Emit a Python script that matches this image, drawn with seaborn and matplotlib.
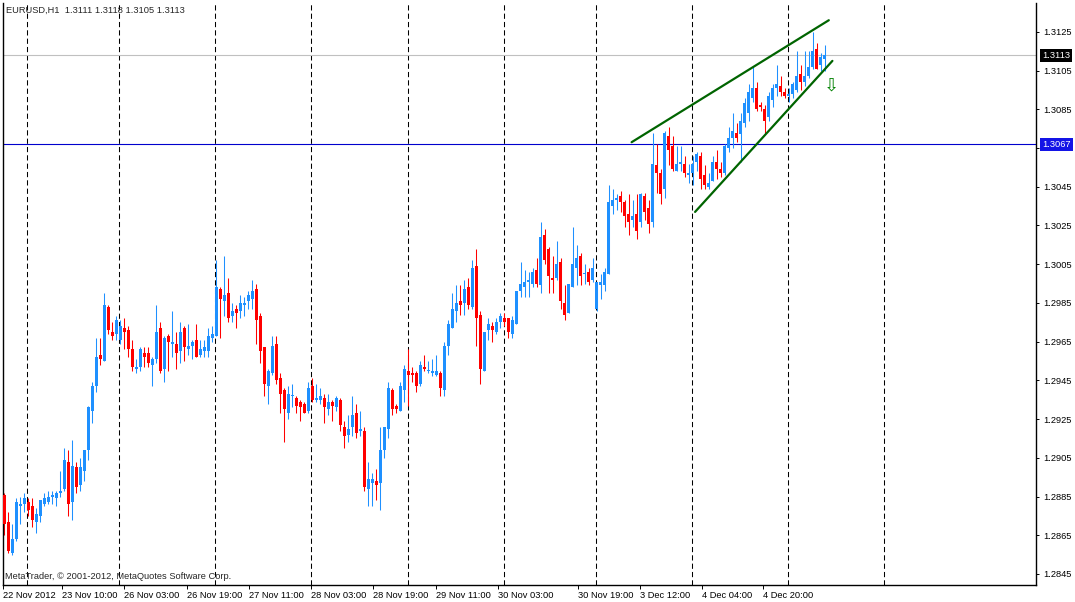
import matplotlib
matplotlib.use('Agg')
import matplotlib.pyplot as plt
import matplotlib.transforms as mtransforms
import pandas as pd
import seaborn as sns

# EURUSD H1 candles, 22 Nov 2012 18:00 -> 5 Dec 2012 09:00
opens = [
    1.2886, 1.2872, 1.2856, 1.2863, 1.2880, 1.2881, 1.2882, 1.2880, 1.2872, 1.2875,
    1.2881, 1.2882, 1.2885, 1.2884, 1.2887, 1.2889, 1.2903, 1.2882, 1.2900, 1.2891,
    1.2898, 1.2909, 1.2929, 1.2942, 1.2958, 1.2955, 1.2983, 1.2970, 1.2969, 1.2966,
    1.2972, 1.2971, 1.2961, 1.2951, 1.2952, 1.2959, 1.2959, 1.2953, 1.2956, 1.2972,
    1.2951, 1.2968, 1.2964, 1.2964, 1.2960, 1.2972, 1.2961, 1.2963, 1.2966, 1.2958,
    1.2960, 1.2960, 1.2967, 1.2968, 1.2992, 1.2986, 1.2990, 1.2978, 1.2982, 1.2981,
    1.2984, 1.2986, 1.2987, 1.2992, 1.2978, 1.2962, 1.2942, 1.2949, 1.2964, 1.2946,
    1.2940, 1.2928, 1.2937, 1.2936, 1.2934, 1.2933, 1.2929, 1.2942, 1.2935, 1.2935,
    1.2936, 1.2930, 1.2934, 1.2931, 1.2935, 1.2921, 1.2917, 1.2921, 1.2928, 1.2919,
    1.2919, 1.2889, 1.2892, 1.2893, 1.2892, 1.2909, 1.2920, 1.2940, 1.2932, 1.2929,
    1.2940, 1.2950, 1.2949, 1.2949, 1.2943, 1.2952, 1.2950, 1.2949, 1.2948, 1.2949,
    1.2940, 1.2963, 1.2972, 1.2981, 1.2986, 1.2985, 1.2993, 1.2983, 1.3004, 1.2979,
    1.2950, 1.2971, 1.2973, 1.2970, 1.2975, 1.2977, 1.2977, 1.2969, 1.2974, 1.2991,
    1.2993, 1.2996, 1.2995, 1.3002, 1.2994, 1.3020, 1.3013, 1.2998, 1.2998, 1.3006,
    1.2985, 1.2980, 1.2993, 1.3003, 1.3009, 1.3000, 1.3001, 1.2997, 1.2982, 1.2994,
    1.2994, 1.3000, 1.3035, 1.3038, 1.3040, 1.3037, 1.3031, 1.3028, 1.3031, 1.3027,
    1.3040, 1.3034, 1.3027, 1.3056, 1.3052, 1.3044, 1.3071, 1.3066, 1.3053, 1.3057,
    1.3057, 1.3051, 1.3052, 1.3058, 1.3061, 1.3051, 1.3045, 1.3048, 1.3058, 1.3054,
    1.3052, 1.3065, 1.3070, 1.3073, 1.3072, 1.3078, 1.3083, 1.3091, 1.3096, 1.3087,
    1.3085, 1.3081, 1.3090, 1.3096, 1.3097, 1.3094, 1.3092, 1.3093, 1.3095, 1.3103,
    1.3099, 1.3102, 1.3107, 1.3116, 1.3108, 1.3111,
]
highs = [
    1.2887, 1.2877, 1.2871, 1.2884, 1.2885, 1.2887, 1.2884, 1.2884, 1.2879, 1.2883,
    1.2887, 1.2888, 1.2888, 1.2888, 1.2898, 1.2910, 1.2909, 1.2914, 1.2903, 1.2905,
    1.2909, 1.2932, 1.2944, 1.2967, 1.2967, 1.2990, 1.2984, 1.2975, 1.2978, 1.2976,
    1.2977, 1.2973, 1.2966, 1.2956, 1.2962, 1.2962, 1.2962, 1.2957, 1.2984, 1.2975,
    1.2968, 1.2969, 1.2981, 1.2970, 1.2975, 1.2973, 1.2974, 1.2966, 1.2974, 1.2966,
    1.2966, 1.2972, 1.2973, 1.3007, 1.2993, 1.3009, 1.2998, 1.2985, 1.2984, 1.2989,
    1.2988, 1.2991, 1.2997, 1.2995, 1.2980, 1.2962, 1.2951, 1.2968, 1.2968, 1.2949,
    1.2941, 1.2942, 1.2943, 1.2937, 1.2935, 1.2934, 1.2944, 1.2946, 1.2943, 1.2941,
    1.2938, 1.2938, 1.2935, 1.2937, 1.2936, 1.2924, 1.2927, 1.2937, 1.2933, 1.2929,
    1.2921, 1.2903, 1.2897, 1.2899, 1.2921, 1.2921, 1.2944, 1.2941, 1.2933, 1.2944,
    1.2953, 1.2961, 1.2952, 1.2950, 1.2955, 1.2958, 1.2955, 1.2956, 1.2958, 1.2950,
    1.2965, 1.2976, 1.2990, 1.2994, 1.2994, 1.2997, 1.2998, 1.3007, 1.3013, 1.2981,
    1.2970, 1.2977, 1.2975, 1.2977, 1.2980, 1.2980, 1.2977, 1.2978, 1.2991, 1.3006,
    1.3002, 1.3001, 1.3003, 1.3008, 1.3027, 1.3023, 1.3014, 1.3009, 1.3017, 1.3008,
    1.2994, 1.2995, 1.3024, 1.3015, 1.3011, 1.3005, 1.3003, 1.3008, 1.2996, 1.3000,
    1.3003, 1.3046, 1.3044, 1.3041, 1.3043, 1.3038, 1.3041, 1.3038, 1.3041, 1.3042,
    1.3042, 1.3038, 1.3073, 1.3067, 1.3054, 1.3074, 1.3076, 1.3071, 1.3066, 1.3066,
    1.3061, 1.3057, 1.3061, 1.3063, 1.3063, 1.3056, 1.3052, 1.3061, 1.3064, 1.3058,
    1.3067, 1.3076, 1.3083, 1.3078, 1.3083, 1.3091, 1.3098, 1.3107, 1.3099, 1.3089,
    1.3087, 1.3094, 1.3098, 1.3108, 1.3102, 1.3096, 1.3096, 1.3099, 1.3115, 1.3108,
    1.3115, 1.3115, 1.3125, 1.3119, 1.3114, 1.3118,
]
lows = [
    1.2865, 1.2856, 1.2855, 1.2862, 1.2871, 1.2877, 1.2875, 1.2869, 1.2866, 1.2872,
    1.2880, 1.2881, 1.2881, 1.2880, 1.2885, 1.2888, 1.2875, 1.2873, 1.2887, 1.2888,
    1.2893, 1.2904, 1.2923, 1.2939, 1.2953, 1.2955, 1.2969, 1.2966, 1.2966, 1.2964,
    1.2961, 1.2957, 1.2950, 1.2949, 1.2950, 1.2952, 1.2952, 1.2942, 1.2954, 1.2949,
    1.2944, 1.2950, 1.2957, 1.2951, 1.2954, 1.2955, 1.2958, 1.2956, 1.2957, 1.2957,
    1.2957, 1.2957, 1.2965, 1.2968, 1.2967, 1.2978, 1.2975, 1.2975, 1.2972, 1.2977,
    1.2978, 1.2982, 1.2982, 1.2964, 1.2954, 1.2937, 1.2933, 1.2948, 1.2943, 1.2928,
    1.2913, 1.2925, 1.2931, 1.2928, 1.2924, 1.2928, 1.2928, 1.2934, 1.2934, 1.2933,
    1.2923, 1.2927, 1.2924, 1.2929, 1.2919, 1.2910, 1.2913, 1.2916, 1.2915, 1.2916,
    1.2888, 1.2880, 1.2880, 1.2883, 1.2878, 1.2905, 1.2915, 1.2927, 1.2928, 1.2929,
    1.2934, 1.2932, 1.2944, 1.2939, 1.2942, 1.2950, 1.2949, 1.2947, 1.2947, 1.2937,
    1.2937, 1.2958, 1.2972, 1.2975, 1.2979, 1.2979, 1.2982, 1.2982, 1.2963, 1.2943,
    1.2950, 1.2966, 1.2965, 1.2969, 1.2972, 1.2973, 1.2967, 1.2967, 1.2974, 1.2988,
    1.2988, 1.2988, 1.2993, 1.2993, 1.2990, 1.3005, 1.2990, 1.2990, 1.2997, 1.2982,
    1.2976, 1.2980, 1.2993, 1.2994, 1.2994, 1.2995, 1.2994, 1.2996, 1.2981, 1.2987,
    1.2991, 1.3000, 1.3031, 1.3033, 1.3032, 1.3024, 1.3020, 1.3024, 1.3018, 1.3024,
    1.3028, 1.3021, 1.3024, 1.3042, 1.3036, 1.3039, 1.3056, 1.3053, 1.3053, 1.3053,
    1.3050, 1.3047, 1.3046, 1.3053, 1.3044, 1.3044, 1.3044, 1.3048, 1.3049, 1.3050,
    1.3051, 1.3063, 1.3065, 1.3068, 1.3058, 1.3076, 1.3079, 1.3089, 1.3084, 1.3084,
    1.3072, 1.3079, 1.3086, 1.3092, 1.3092, 1.3091, 1.3089, 1.3091, 1.3094, 1.3095,
    1.3097, 1.3101, 1.3106, 1.3106, 1.3105, 1.3105,
]
closes = [
    1.2871, 1.2857, 1.2863, 1.2882, 1.2881, 1.2884, 1.2878, 1.2873, 1.2876, 1.2883,
    1.2884, 1.2885, 1.2886, 1.2887, 1.2888, 1.2904, 1.2881, 1.2901, 1.2890, 1.2900,
    1.2909, 1.2931, 1.2942, 1.2957, 1.2956, 1.2984, 1.2971, 1.2968, 1.2976, 1.2973,
    1.2970, 1.2961, 1.2952, 1.2952, 1.2961, 1.2957, 1.2954, 1.2956, 1.2970, 1.2950,
    1.2967, 1.2965, 1.2965, 1.2959, 1.2970, 1.2962, 1.2963, 1.2965, 1.2957, 1.2961,
    1.2962, 1.2968, 1.2969, 1.2993, 1.2987, 1.2989, 1.2977, 1.2981, 1.2980, 1.2985,
    1.2985, 1.2989, 1.2991, 1.2976, 1.2960, 1.2943, 1.2950, 1.2963, 1.2945, 1.2938,
    1.2930, 1.2938, 1.2937, 1.2932, 1.2931, 1.2928, 1.2941, 1.2935, 1.2936, 1.2937,
    1.2931, 1.2934, 1.2932, 1.2936, 1.2922, 1.2916, 1.2920, 1.2927, 1.2918, 1.2920,
    1.2890, 1.2894, 1.2894, 1.2891, 1.2909, 1.2921, 1.2941, 1.2930, 1.2930, 1.2942,
    1.2951, 1.2948, 1.2948, 1.2942, 1.2953, 1.2951, 1.2950, 1.2950, 1.2950, 1.2941,
    1.2963, 1.2974, 1.2982, 1.2985, 1.2984, 1.2992, 1.2984, 1.3003, 1.2977, 1.2951,
    1.2970, 1.2974, 1.2971, 1.2975, 1.2978, 1.2975, 1.2970, 1.2976, 1.2991, 1.2995,
    1.2996, 1.2997, 1.3001, 1.2995, 1.3019, 1.3007, 1.2999, 1.2997, 1.3005, 1.2986,
    1.2979, 1.2995, 1.3005, 1.3008, 1.2999, 1.3000, 1.2996, 1.3003, 1.2996, 1.2996,
    1.3001, 1.3037, 1.3038, 1.3039, 1.3037, 1.3030, 1.3027, 1.3030, 1.3022, 1.3041,
    1.3032, 1.3026, 1.3057, 1.3052, 1.3041, 1.3073, 1.3064, 1.3054, 1.3057, 1.3058,
    1.3052, 1.3052, 1.3057, 1.3062, 1.3049, 1.3046, 1.3047, 1.3058, 1.3054, 1.3052,
    1.3066, 1.3070, 1.3074, 1.3070, 1.3079, 1.3088, 1.3094, 1.3096, 1.3085, 1.3086,
    1.3079, 1.3092, 1.3096, 1.3098, 1.3094, 1.3092, 1.3093, 1.3098, 1.3102, 1.3099,
    1.3102, 1.3107, 1.3115, 1.3106, 1.3112, 1.3113,
]

# bar numbers where a new trading day starts (period separators)
day_starts = [6, 29, 53, 77, 101, 125, 148, 172, 196, 220]

time_labels = ['22 Nov 2012', '23 Nov 10:00', '26 Nov 03:00', '26 Nov 19:00',
               '27 Nov 11:00', '28 Nov 03:00', '28 Nov 19:00', '29 Nov 11:00',
               '30 Nov 03:00', '30 Nov 19:00', '3 Dec 12:00', '4 Dec 04:00',
               '4 Dec 20:00']
time_label_pos = [-0.25, 14.5, 30, 45.75, 61.25, 76.75, 92.25, 108, 123.5,
                  143.25, 158.75, 174.25, 189.5]

price_ticks = [1.2845, 1.2865, 1.2885, 1.2905, 1.2925, 1.2945, 1.2965, 1.2985,
               1.3005, 1.3025, 1.3045, 1.3065, 1.3085, 1.3105, 1.3125]

bid_price = 1.3113
level_price = 1.3067

# rising wedge drawn by hand: (bar, price) end points
upper_bars = [156.75, 206.0]
upper_prices = [1.3068, 1.3131]
lower_bars = [172.6, 206.9]
lower_prices = [1.3032, 1.3110]

df = pd.DataFrame({'open': opens, 'high': highs, 'low': lows, 'close': closes})
df['bar'] = range(len(df))
df['up'] = df['close'] >= df['open']
df['bottom'] = df[['open', 'close']].min(axis=1)
df['body'] = (df['close'] - df['open']).abs().clip(lower=0.00006)
df.loc[df['close'] == df['open'], 'bottom'] -= 0.00003
df['color'] = df['up'].map({True: '#1E90FF', False: '#FF0000'})

sns.set_style('white')
plt.rcParams['font.family'] = ['Liberation Sans', 'DejaVu Sans']

fig = plt.figure(figsize=(10.75, 6.02), dpi=100)
ax = fig.add_axes([3 / 1075, 17 / 602, 1033 / 1075, 582 / 602])

# period separators
for d in day_starts:
    ax.axvline(d - 0.2, color='black', lw=0.75, ls=(0, (5, 3)), zorder=1)

ax.axhline(bid_price, color='#C0C0C0', lw=0.8, zorder=1)
ax.axhline(level_price, color='#0000CD', lw=0.8, zorder=1)

# candles
ax.vlines(df['bar'], df['low'], df['high'], colors=df['color'], lw=0.75, zorder=2)
ax.bar(df['bar'], df['body'], bottom=df['bottom'], width=0.75,
       color=df['color'], linewidth=0, zorder=3)

# wedge lines
sns.lineplot(x=upper_bars, y=upper_prices, ax=ax, color='#006400', lw=1.6,
             legend=False, zorder=4)
sns.lineplot(x=lower_bars, y=lower_prices, ax=ax, color='#006400', lw=1.6,
             legend=False, zorder=4)
ax.text(206.75, 1.30975, '\u21e9', color='#008000', fontsize=13,
        ha='center', va='center', family='DejaVu Sans', zorder=5)

ax.set_xlim(-0.25, 257.75)
ax.set_ylim(1.28393, 1.31399)

# the 1.3065 label sits under the level box, so leave it blank
ax.yaxis.tick_right()
ax.set_yticks(price_ticks)
ax.set_yticklabels(['' if abs(p - level_price) < 0.0005 else f'{p:.4f}'
                    for p in price_ticks])
ax.tick_params(axis='y', direction='out', length=2.5, width=0.7, pad=3,
               labelsize=6.7, right=True, left=False, colors='black')
ax.set_xticks(time_label_pos)
ax.set_xticklabels(time_labels, ha='left')
ax.tick_params(axis='x', direction='out', length=3, width=0.7, pad=1.5,
               labelsize=6.7, bottom=True, colors='black')
ax.set_xlabel('')
ax.set_ylabel('')
ax.grid(False)

for side in ['left', 'right', 'bottom']:
    ax.spines[side].set_visible(True)
    ax.spines[side].set_color('black')
    ax.spines[side].set_linewidth(1.0)
ax.spines['top'].set_visible(False)

tr = mtransforms.blended_transform_factory(ax.transAxes, ax.transData)
ax.text(1.0058, bid_price, f'{bid_price:.4f}', transform=tr, color='white',
        fontsize=6.7, ha='left', va='center', zorder=6, clip_on=False,
        bbox=dict(boxstyle='square,pad=0.22', fc='black', ec='none'))
ax.text(1.0058, level_price, f'{level_price:.4f}', transform=tr, color='white',
        fontsize=6.7, ha='left', va='center', zorder=6, clip_on=False,
        bbox=dict(boxstyle='square,pad=0.22', fc='#1414E6', ec='none'))

ax.text(0.003, 0.988, 'EURUSD,H1  1.3111 1.3118 1.3105 1.3113',
        transform=ax.transAxes, fontsize=6.7, ha='left', va='center')
ax.text(0.002, 0.014, 'MetaTrader, \u00a9 2001-2012, MetaQuotes Software Corp.',
        transform=ax.transAxes, fontsize=6.7, ha='left', va='center')

fig.savefig('out.png', dpi=100, facecolor='white')
